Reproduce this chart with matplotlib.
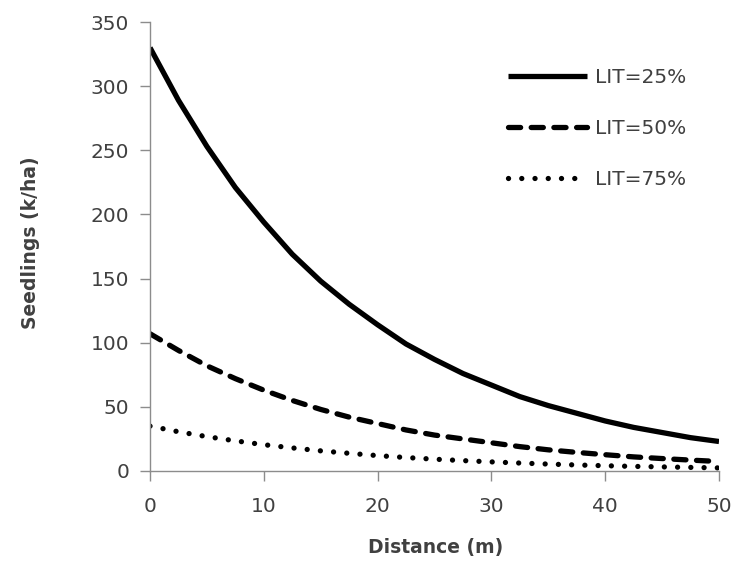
import matplotlib
matplotlib.use("Agg")
import matplotlib.pyplot as plt

distance = [0, 2.5, 5, 7.5, 10, 12.5, 15, 17.5, 20, 22.5, 25, 27.5, 30,
            32.5, 35, 37.5, 40, 42.5, 45, 47.5, 50]
lit25 = [330, 289, 253, 221, 194, 169, 148, 130, 114, 99, 87, 76, 67,
         58, 51, 45, 39, 34, 30, 26, 23]
lit50 = [107, 94, 82, 72, 63, 55, 48, 42, 37, 32, 28, 25, 22,
         19, 16.5, 14.5, 12.7, 11, 9.7, 8.5, 7.4]
lit75 = [35, 30.6, 26.8, 23.5, 20.5, 18, 15.7, 13.8, 12, 10.5, 9.2, 8.1, 7.1,
         6.2, 5.4, 4.7, 4.1, 3.6, 3.2, 2.8, 2.4]
labels = ["LIT=25%", "LIT=50%", "LIT=75%"]
xticks = [0, 10, 20, 30, 40, 50]
yticks = [0, 50, 100, 150, 200, 250, 300, 350]

plt.rcParams['font.family'] = ['DejaVu Sans']

W, H = 738, 563
fig = plt.figure(figsize=(W / 100, H / 100), dpi=100)
ax = fig.add_axes([150 / W, 1 - 471 / H, (719 - 150) / W, (471 - 22) / H])

lw = 3.8
ax.plot(distance, lit25, color='black', lw=lw, solid_capstyle='butt',
        solid_joinstyle='round', label=labels[0])
ax.plot(distance, lit50, color='black', lw=lw, linestyle=(0, (2.3, 2.0)),
        dash_capstyle='round', label=labels[1])
ax.plot(distance, lit75, color='black', lw=lw, linestyle=(0, (0.01, 2.5)),
        dash_capstyle='round', label=labels[2])

ax.set_xlim(0, 50)
ax.set_ylim(0, 350)
ax.set_xticks(xticks)
ax.set_yticks(yticks)

for s in ['top', 'right']:
    ax.spines[s].set_visible(False)
for s in ['left', 'bottom']:
    ax.spines[s].set_color('#8c8c8c')
    ax.spines[s].set_linewidth(1.0)

ax.tick_params(axis='both', direction='out', length=7, width=1.0, color='#8c8c8c',
               labelsize=14.5, labelcolor='#404040')
ax.tick_params(axis='y', pad=8)
ax.tick_params(axis='x', pad=12)

fig.text(436 / W, 1 - 547 / H, "Distance (m)", fontsize=13.5, fontweight='bold',
         color='#404040', ha='center', va='center')
fig.text(31 / W, 1 - 243 / H, "Seedlings (k/ha)", fontsize=13.5, fontweight='bold',
         color='#404040', ha='center', va='center', rotation=90)

leg = ax.legend(loc='upper left', bbox_to_anchor=(508 / W, 1 - 68 / H),
                bbox_transform=fig.transFigure, frameon=False, fontsize=14.5,
                handlelength=3.9, handletextpad=0.4, labelspacing=1.6,
                borderpad=0, borderaxespad=0)
for t in leg.get_texts():
    t.set_color('#404040')

fig.savefig("out.png", dpi=100)
